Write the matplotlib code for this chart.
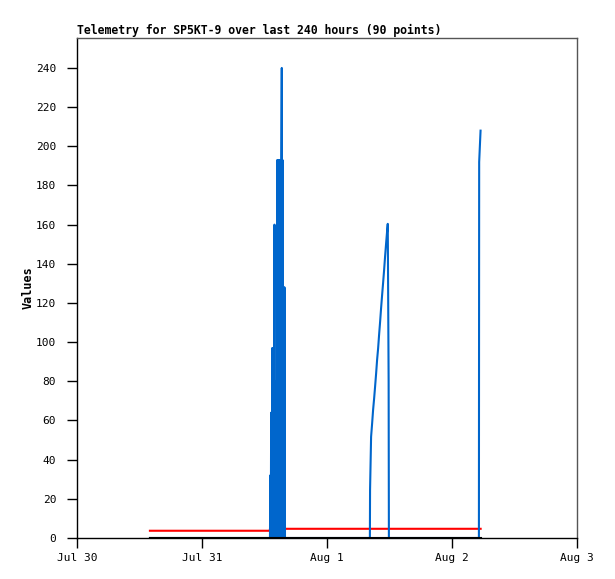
import pandas as pd
import matplotlib
matplotlib.use("Agg")
import matplotlib.pyplot as plt

# telemetry channel 1 (blue)
blue_times = [
    "2024-07-30 14:00", "2024-07-31 13:00",
    "2024-07-31 13:03", "2024-07-31 13:07", "2024-07-31 13:12", "2024-07-31 13:17",
    "2024-07-31 13:23", "2024-07-31 13:29", "2024-07-31 13:34", "2024-07-31 13:40",
    "2024-07-31 13:46", "2024-07-31 13:55", "2024-07-31 14:01", "2024-07-31 14:07",
    "2024-07-31 14:11", "2024-07-31 14:17", "2024-07-31 14:22", "2024-07-31 14:27",
    "2024-07-31 14:33", "2024-07-31 14:39", "2024-07-31 14:45", "2024-07-31 14:50",
    "2024-07-31 14:56", "2024-07-31 15:02", "2024-07-31 15:08", "2024-07-31 15:14",
    "2024-07-31 15:19", "2024-07-31 15:24", "2024-07-31 15:28", "2024-07-31 15:33",
    "2024-07-31 15:39", "2024-07-31 15:45", "2024-07-31 15:50", "2024-07-31 15:56",
    "2024-08-01 08:14", "2024-08-01 08:16", "2024-08-01 08:28", "2024-08-01 08:40",
    "2024-08-01 08:51", "2024-08-01 09:03", "2024-08-01 09:14", "2024-08-01 09:26",
    "2024-08-01 09:37", "2024-08-01 09:49", "2024-08-01 10:00", "2024-08-01 10:12",
    "2024-08-01 10:23", "2024-08-01 10:35", "2024-08-01 10:46", "2024-08-01 10:58",
    "2024-08-01 11:09", "2024-08-01 11:21", "2024-08-01 11:32", "2024-08-01 11:40",
    "2024-08-01 11:50", "2024-08-01 11:53",
    "2024-08-02 05:10", "2024-08-02 05:13", "2024-08-02 05:29",
]
blue_values = [
    0, 0,
    0, 32, 0, 64,
    0, 97, 0, 97,
    0, 160, 0, 80,
    0, 80, 0, 193,
    0, 193, 0, 193,
    0, 193, 0, 193,
    240, 0, 193, 0,
    128, 0, 128, 0,
    0, 24.5, 51.7, 58.6,
    65.4, 71.3, 77.3, 84.1,
    90.9, 96.9, 103.7, 110.5,
    117.3, 124.1, 130.1, 136.9,
    143.7, 150.5, 156.4, 160.4,
    80, 0,
    0, 192, 208,
]

# telemetry channel 2 (red)
red_times = ["2024-07-30 14:00", "2024-07-31 13:00", "2024-07-31 13:03", "2024-08-02 05:30"]
red_values = [3.7, 3.7, 4.7, 4.7]

# telemetry channel 3 (black)
black_times = ["2024-07-30 14:00", "2024-08-02 05:30"]
black_values = [0, 0]

tick_dates = ["2024-07-30", "2024-07-31", "2024-08-01", "2024-08-02", "2024-08-03"]
tick_labels = ["Jul 30", "Jul 31", "Aug 1", "Aug 2", "Aug 3"]
y_ticks = list(range(0, 241, 20))

mono = "DejaVu Sans Mono"

fig = plt.figure(figsize=(6.15, 5.79), dpi=100)
ax = fig.add_axes([77 / 615, 41 / 579, 500 / 615, 500 / 579])

ax.plot(pd.to_datetime(red_times), red_values, color="#ff0000", linewidth=1.5, zorder=2)
ax.plot(pd.to_datetime(blue_times), blue_values, color="#0066cc", linewidth=1.5, zorder=3)
ax.plot(pd.to_datetime(black_times), black_values, color="black", linewidth=1.5, zorder=4)

ax.set_xlim(pd.Timestamp(tick_dates[0]), pd.Timestamp(tick_dates[-1]))
ax.set_ylim(0, 255.3)
ax.set_xticks(pd.to_datetime(tick_dates))
ax.set_xticklabels(tick_labels, fontfamily=mono, fontsize=8)
ax.set_yticks(y_ticks)
ax.set_yticklabels([str(v) for v in y_ticks], fontfamily=mono, fontsize=8)
ax.tick_params(axis="x", direction="out", length=7, width=1, color="black", pad=4)
ax.tick_params(axis="y", direction="out", length=7, width=1, color="black", pad=8)

ax.set_ylabel("Values", fontfamily=mono, fontsize=8.5, fontweight="bold", labelpad=1)
ax.set_title("Telemetry for SP5KT-9 over last 240 hours (90 points)", loc="left",
             fontfamily=mono, fontsize=8.3, fontweight="bold", pad=3)

for side in ["top", "right"]:
    ax.spines[side].set_color("#555555")
for side in ["left", "bottom"]:
    ax.spines[side].set_color("black")
for s in ax.spines.values():
    s.set_linewidth(1)

fig.savefig("out.png", dpi=100)
